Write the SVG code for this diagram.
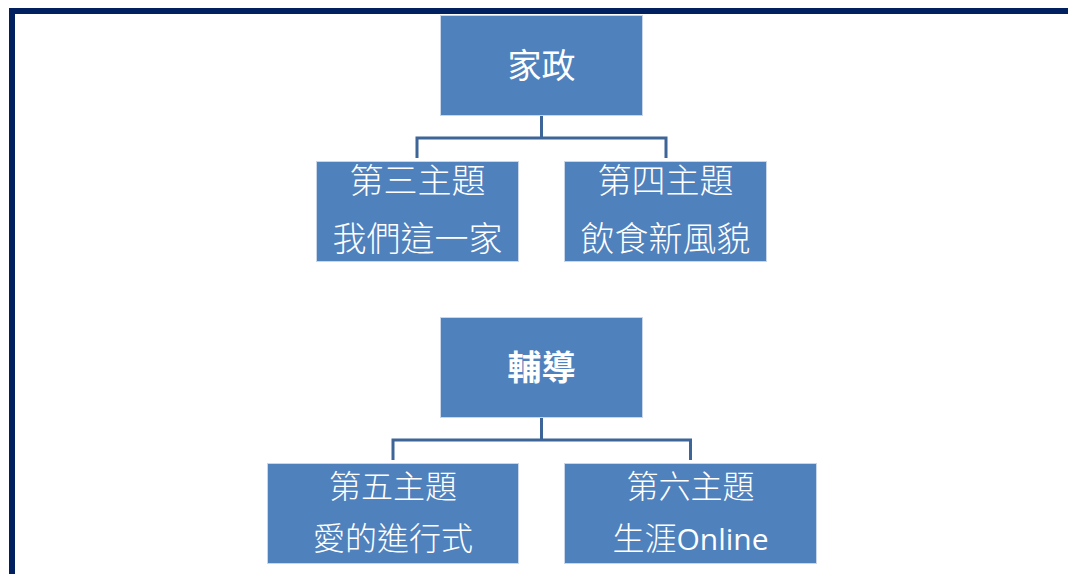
<svg xmlns="http://www.w3.org/2000/svg" width="1068" height="574" viewBox="0 0 1068 574">
<style>
.box{fill:#4f81bd;stroke:#c8d6ea;stroke-width:1}
.t{fill:#ffffff;font-family:"Noto Sans CJK TC","Noto Sans CJK SC",sans-serif;text-anchor:middle}
.l{font-weight:300}
.c{fill:none;stroke:#3e6597;stroke-width:3}
</style>
<rect x="0" y="0" width="1068" height="574" fill="#ffffff"/>
<g id="frame">
<rect x="9" y="8" width="1059" height="6" fill="#002060"/>
<rect x="9" y="8" width="6" height="566" fill="#002060"/>
</g>
<g id="connectors">
<path class="c" d="M541.5 116 V138 M417 158 V138 H666 V158"/>
<path class="c" d="M541.5 418 V440 M393 460 V440 H690.5 V460"/>
</g>
<g id="n1"><rect class="box" x="440.5" y="15.5" width="202" height="100"/><text class="t" x="541.5" y="78" font-size="34">家政</text></g>
<g id="n2"><rect class="box" x="316.5" y="161.5" width="202" height="100"/><text class="t l" x="417.5" y="193" font-size="34">第三主題</text><text class="t l" x="417.5" y="251" font-size="34">我們這一家</text></g>
<g id="n3"><rect class="box" x="564.5" y="161.5" width="202" height="100"/><text class="t l" x="665.5" y="193" font-size="34">第四主題</text><text class="t l" x="665.5" y="251" font-size="34">飲食新風貌</text></g>
<g id="n4"><rect class="box" x="440.5" y="317.5" width="202" height="100"/><text class="t" x="541.5" y="380" font-size="34" font-weight="bold">輔導</text></g>
<g id="n5"><rect class="box" x="267.5" y="463.5" width="251" height="100"/><text class="t l" x="393" y="498" font-size="32">第五主題</text><text class="t l" x="393" y="550" font-size="32">愛的進行式</text></g>
<g id="n6"><rect class="box" x="564.5" y="463.5" width="252" height="100"/><text class="t l" x="690.5" y="498" font-size="32">第六主題</text><text class="t" x="690.5" y="550" font-size="32"><tspan font-weight="300">生涯</tspan><tspan font-family="'Open Sans',sans-serif" font-size="30">Online</tspan></text></g>
</svg>
